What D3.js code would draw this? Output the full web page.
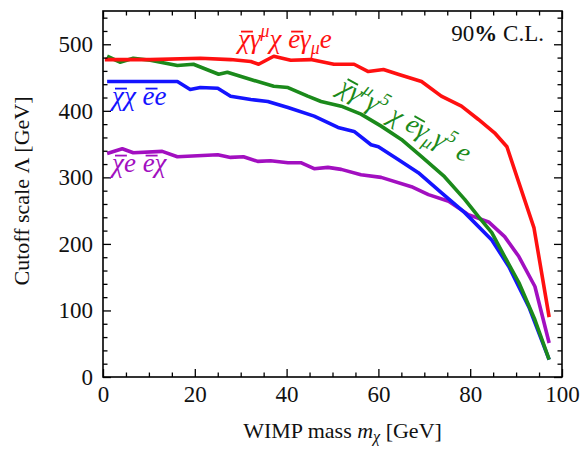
<!DOCTYPE html>
<html>
<head>
<meta charset="utf-8">
<script src="https://cdn.jsdelivr.net/npm/d3@7"></script>
<style>
html,body{margin:0;padding:0;background:#fff;}
svg{display:block;}
</style>
</head>
<body>
<svg id="chart" width="580" height="450"></svg>
<script>
// ---- data ----
const xMajorTicks = [0, 20, 40, 60, 80, 100];
const yMajorTicks = [0, 100, 200, 300, 400, 500];

const massRed   = [0.4, 10.3, 21.2, 27.8, 32.2, 33.9, 37.2, 40.9, 45.3, 50.3, 54.7, 57.8, 61.1, 64.3, 69.4, 73.7, 78.1, 81.8, 85.3, 88.0, 90.6, 93.9, 97.2];
const lambdaRed = [477, 477, 479, 477, 474, 470, 482, 476, 477, 470, 470, 459, 462, 455, 444, 422, 407, 387, 367, 346, 292, 224, 90];

const massGreen   = [0.9, 3.7, 6.6, 10.3, 16.2, 19.7, 25.2, 27.1, 32.2, 37.2, 40.3, 44.6, 47.5, 51.9, 56.2, 60.6, 65.0, 69.4, 74.4, 78.8, 81.8, 84.7, 87.5, 90.6, 94.1, 97.2];
const lambdaGreen = [482, 473, 479, 476, 468, 470, 455, 458, 447, 437, 435, 422, 414, 407, 395, 377, 357, 331, 301, 267, 241, 217, 181, 142, 86, 26];

const massBlue   = [0.9, 16.2, 19.0, 21.2, 25.0, 27.8, 32.2, 35.9, 40.3, 46.0, 51.2, 54.7, 58.4, 60.0, 64.3, 68.7, 73.7, 78.8, 84.7, 88.4, 92.8, 97.2];
const lambdaBlue = [444, 444, 432, 435, 434, 422, 417, 414, 405, 392, 375, 369, 349, 346, 327, 307, 277, 247, 206, 166, 105, 26];

const massPurple   = [0.9, 4.2, 6.6, 12.9, 16.2, 25.0, 27.8, 30.6, 33.7, 36.5, 40.3, 43.1, 46.0, 49.0, 51.9, 56.2, 60.6, 67.2, 70.9, 75.3, 79.6, 84.0, 87.5, 90.6, 94.1, 97.2];
const lambdaPurple = [336, 343, 337, 339, 331, 334, 330, 331, 324, 325, 322, 322, 313, 315, 312, 304, 300, 286, 274, 264, 244, 233, 211, 181, 136, 51];

// ---- layout ----
const svg = d3.select("#chart");
const L = 103, R = 562, T = 11, B = 377;
const x = d3.scaleLinear().domain([0, 100]).range([L, R]);
const y = d3.scaleLinear().domain([0, 550]).range([B, T]);
const FONT = "'Liberation Serif', 'Times New Roman', serif";

svg.append("rect").attr("width", 580).attr("height", 450).attr("fill", "#fff");

// ---- series ----
const series = [
  {m: massPurple, v: lambdaPurple, c: "#a20fc0"},
  {m: massBlue,   v: lambdaBlue,   c: "#1414ff"},
  {m: massGreen,  v: lambdaGreen,  c: "#1b8a1b"},
  {m: massRed,    v: lambdaRed,    c: "#ff1010"}
];
const line = d3.line().x(d => x(d[0])).y(d => y(d[1]));
series.forEach(s => {
  svg.append("path")
    .datum(s.m.map((m, i) => [m, s.v[i]]))
    .attr("d", line)
    .attr("fill", "none")
    .attr("stroke", s.c)
    .attr("stroke-width", 3.6)
    .attr("stroke-linejoin", "round");
});

// ---- axes (ticks inside, all four sides) ----
const xMinor = d3.range(0, 101, 5).filter(v => v % 20 !== 0);
const yMinor = d3.range(0, 551, 20).filter(v => v % 100 !== 0);

function styleAxis(g) {
  g.selectAll("line").attr("stroke", "#000").attr("stroke-width", 1.3);
  g.selectAll("path.domain").remove();
  g.selectAll("text").attr("font-family", FONT).attr("font-size", 23).attr("fill", "#111");
}
// bottom
svg.append("g").attr("transform", `translate(0,${B})`)
  .call(d3.axisBottom(x).tickValues(xMajorTicks).tickSize(-8).tickPadding(9).tickFormat(d3.format("d")))
  .call(styleAxis);
svg.append("g").attr("transform", `translate(0,${B})`)
  .call(d3.axisBottom(x).tickValues(xMinor).tickSize(-4.5).tickFormat(""))
  .call(styleAxis);
// top
svg.append("g").attr("transform", `translate(0,${T})`)
  .call(d3.axisTop(x).tickValues(xMajorTicks).tickSize(-8).tickFormat(""))
  .call(styleAxis);
svg.append("g").attr("transform", `translate(0,${T})`)
  .call(d3.axisTop(x).tickValues(xMinor).tickSize(-4.5).tickFormat(""))
  .call(styleAxis);
// left
svg.append("g").attr("transform", `translate(${L},0)`)
  .call(d3.axisLeft(y).tickValues(yMajorTicks).tickSize(-8).tickPadding(10).tickFormat(d3.format("d")))
  .call(styleAxis);
svg.append("g").attr("transform", `translate(${L},0)`)
  .call(d3.axisLeft(y).tickValues(yMinor).tickSize(-4.5).tickFormat(""))
  .call(styleAxis);
// right
svg.append("g").attr("transform", `translate(${R},0)`)
  .call(d3.axisRight(y).tickValues(yMajorTicks).tickSize(-8).tickFormat(""))
  .call(styleAxis);
svg.append("g").attr("transform", `translate(${R},0)`)
  .call(d3.axisRight(y).tickValues(yMinor).tickSize(-4.5).tickFormat(""))
  .call(styleAxis);

// frame
svg.append("rect").attr("x", L).attr("y", T).attr("width", R - L).attr("height", B - T)
  .attr("fill", "none").attr("stroke", "#000").attr("stroke-width", 1.6);

// ---- axis titles ----
const xt = svg.append("text").attr("x", (L + R) / 2 + 10).attr("y", 438)
  .attr("text-anchor", "middle").attr("font-family", FONT).attr("font-size", 22).attr("fill", "#111");
xt.append("tspan").text("WIMP mass ");
xt.append("tspan").attr("font-style", "italic").text("m");
xt.append("tspan").attr("font-style", "italic").attr("font-size", 16).attr("dy", 4).text("χ");
xt.append("tspan").attr("dy", -4).text(" [GeV]");

svg.append("text")
  .attr("transform", `translate(29,191) rotate(-90)`)
  .attr("text-anchor", "middle").attr("font-family", FONT).attr("font-size", 22).attr("fill", "#111")
  .text("Cutoff scale Λ [GeV]");

// ---- CL note ----
const cl = svg.append("text").attr("x", 544).attr("y", 41).attr("text-anchor", "end")
  .attr("font-family", FONT).attr("font-size", 23).attr("fill", "#111");
cl.append("tspan").text("90");
cl.append("tspan").attr("font-weight", "bold").text("%");
cl.append("tspan").text(" C.L.");

// ---- operator labels ----
// segment: [text, kind] where kind: "" normal, "o" overlined, "sup", "sub"
function label(g, x0, y0, segs, color, size) {
  const t = g.append("text").attr("x", x0).attr("y", y0)
    .attr("font-family", FONT).attr("font-style", "italic")
    .attr("font-size", size).attr("fill", color);
  let shift = 0, idx = 0;
  const over = [];
  segs.forEach(([s, k]) => {
    const sp = t.append("tspan").text(s);
    let target = 0;
    if (k === "sup") { target = -0.42 * size; sp.attr("font-size", size * 0.66); }
    if (k === "sub") { target = 0.22 * size; sp.attr("font-size", size * 0.66); }
    if (k === "o") over.push(idx);
    if (target !== shift) { sp.attr("dy", target - shift); shift = target; }
    idx += s.length;
  });
  const node = t.node();
  over.forEach(i => {
    const a = node.getStartPositionOfChar(i).x;
    const b = node.getEndPositionOfChar(i).x;
    const yy = y0 - 0.46 * size - 4;
    g.append("line").attr("x1", a + 3).attr("x2", b + 3).attr("y1", yy).attr("y2", yy)
      .attr("stroke", color).attr("stroke-width", 1.8);
  });
  return t;
}

const LS = 27;
label(svg, 238, 48, [["χ", "o"], ["γ", ""], ["μ", "sup"], ["χ ", ""], ["e", "o"], ["γ", ""], ["μ", "sub"], ["e", ""]], "#ff1010", LS);
label(svg, 112, 105, [["χ", "o"], ["χ ", ""], ["e", "o"], ["e", ""]], "#1414ff", LS);
label(svg, 112, 172, [["χ", "o"], ["e ", ""], ["e", "o"], ["χ", ""]], "#a20fc0", LS);

const gg = svg.append("g").attr("transform", "translate(337,92) rotate(29)");
label(gg, 0, 0, [["χ", "o"], ["γ", ""], ["μ", "sup"], ["γ", ""], ["5", "sup"], [" χ ", ""], ["e", "o"], ["γ", ""], ["μ", "sub"], ["γ", ""], ["5", "sup"], [" e", ""]], "#1b8a1b", LS);
</script>
</body>
</html>
